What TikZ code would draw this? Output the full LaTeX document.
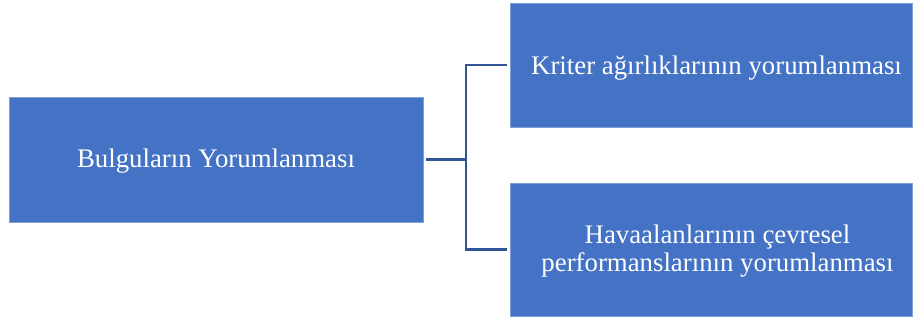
\documentclass[tikz,border=0pt]{standalone}
\usepackage{fontspec}
\setmainfont{Liberation Serif}
\definecolor{boxblue}{HTML}{4472C4}
\definecolor{boxedge}{HTML}{7F9FD8}
\definecolor{linkblue}{HTML}{2F5597}
\begin{document}
\begin{tikzpicture}[x=1pt,y=-1pt,
  topicbox/.style={fill=boxblue,draw=boxedge,line width=0.8pt,inner sep=0pt},
  boxtext/.style={text=white,align=center,inner sep=0pt,
    font=\fontsize{26.8}{28}\selectfont},
  link/.style={draw=linkblue,line width=2.2pt}]
\useasboundingbox (0,0) rectangle (913,323);
\node[topicbox,minimum width=414,minimum height=125,
  label={[boxtext,yshift=-2]center:Bulguların Yorumlanması}] (main) at (216,159.5) {};
\node[topicbox,minimum width=402,minimum height=124,
  label={[boxtext,xshift=5.5,yshift=-2.7]center:Kriter ağırlıklarının yorumlanması}] (w) at (711,65) {};
\node[topicbox,minimum width=402,minimum height=133,
  label={[boxtext,xshift=6.5,yshift=-1.2]center:Havaalanlarının çevresel\\performanslarının yorumlanması}] (p) at (711,249.5) {};
\coordinate (j) at (466,159.5);
\draw[link] ([xshift=3]main.east) -- (j);
\draw[link] ([xshift=-3]w.west) -| (j) |- ([xshift=-3]p.west);
\end{tikzpicture}
\end{document}
